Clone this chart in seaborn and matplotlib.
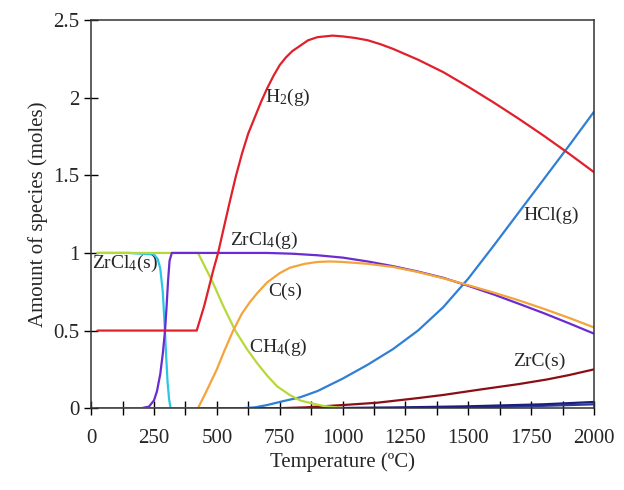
import pandas as pd
import matplotlib
matplotlib.use('Agg')
import matplotlib.pyplot as plt
from matplotlib.ticker import MultipleLocator
import seaborn as sns

# values (temperature in C, amount in moles)
h2_t = [25, 200, 420, 450, 486, 505, 526, 550, 575, 600, 625, 650, 675, 700, 725, 750, 775, 800, 863, 900, 960,
        1000, 1050, 1100, 1150, 1200, 1300, 1400, 1500, 1600, 1700, 1800, 1900, 2000]
h2_y = [0.5, 0.5, 0.5, 0.66, 0.89, 1.0, 1.15, 1.32, 1.49, 1.64, 1.77, 1.87, 1.97, 2.06, 2.14, 2.21, 2.26, 2.30, 2.37, 2.39, 2.40,
        2.395, 2.385, 2.37, 2.345, 2.315, 2.245, 2.165, 2.07, 1.97, 1.865, 1.755, 1.64, 1.52]

zrcl4s_t = [25, 150, 250, 265, 275, 285, 292, 298, 304, 310, 316]
zrcl4s_y = [1.0, 1.0, 0.99, 0.96, 0.90, 0.75, 0.55, 0.35, 0.17, 0.06, 0.0]

zrcl4g_t = [25, 200, 230, 250, 262, 275, 285, 294, 300, 306, 312, 321, 500, 700, 800, 900, 1000,
            1100, 1200, 1300, 1400, 1500, 1600, 1700, 1800, 1900, 2000]
zrcl4g_y = [0.0, 0.0, 0.01, 0.05, 0.11, 0.22, 0.35, 0.5, 0.65, 0.82, 0.95, 1.0, 1.0, 1.0, 0.995, 0.985, 0.97,
            0.945, 0.915, 0.88, 0.84, 0.788, 0.733, 0.673, 0.612, 0.547, 0.48]

ch4_t = [25, 200, 425, 450, 481, 525, 573, 620, 660, 700, 740, 790, 831, 880, 922, 1000]
ch4_y = [1.0, 1.0, 1.0, 0.92, 0.82, 0.66, 0.50, 0.38, 0.29, 0.21, 0.14, 0.085, 0.05, 0.03, 0.015, 0.0]

c_t = [25, 425, 450, 500, 530, 565, 600, 630, 660, 700, 750, 791, 850, 900, 950, 1000, 1100, 1200, 1300,
       1400, 1500, 1600, 1700, 1800, 1900, 2000]
c_y = [0.0, 0.0, 0.08, 0.25, 0.37, 0.5, 0.61, 0.68, 0.74, 0.81, 0.87, 0.905, 0.93, 0.942, 0.945, 0.942, 0.93, 0.91, 0.877,
       0.837, 0.792, 0.745, 0.695, 0.64, 0.582, 0.52]

hcl_t = [25, 600, 650, 700, 750, 831, 900, 1000, 1100, 1200, 1300, 1400, 1500, 1600, 1700, 1800, 1900, 2000]
hcl_y = [0.0, 0.0, 0.005, 0.02, 0.04, 0.07, 0.11, 0.19, 0.28, 0.38, 0.50, 0.65, 0.835, 1.045, 1.26, 1.475, 1.69, 1.91]

zrc_t = [25, 750, 850, 1000, 1137, 1300, 1400, 1547, 1700, 1813, 1900, 2000]
zrc_y = [0.0, 0.0, 0.005, 0.02, 0.035, 0.065, 0.085, 0.12, 0.155, 0.185, 0.213, 0.25]

minor1_t = [25, 900, 1200, 1500, 1800, 2000]
minor1_y = [0.0, 0.0, 0.004, 0.012, 0.025, 0.04]
minor2_t = [25, 1000, 1300, 1600, 1800, 2000]
minor2_y = [0.0, 0.0, 0.003, 0.008, 0.015, 0.025]

species = ['H2', 'ZrCl4(s)', 'ZrCl4(g)', 'CH4', 'C', 'HCl', 'ZrC', 'm1', 'm2']
temps = [h2_t, zrcl4s_t, zrcl4g_t, ch4_t, c_t, hcl_t, zrc_t, minor1_t, minor2_t]
amounts = [h2_y, zrcl4s_y, zrcl4g_y, ch4_y, c_y, hcl_y, zrc_y, minor1_y, minor2_y]
colors = ['#e0202a', '#2cc6e4', '#6a2cd0', '#b8d83a', '#f4a43a', '#2f7fd6', '#8a0f14', '#1b1f7a', '#2a3a9a']

frames = []
for s, t, a in zip(species, temps, amounts):
    frames.append(pd.DataFrame({'T': t, 'n': a, 'species': s}))
df = pd.concat(frames, ignore_index=True)

sns.set_style('ticks')
plt.rcParams['font.family'] = ['Liberation Serif', 'DejaVu Serif']
plt.rcParams['mathtext.fontset'] = 'custom'
plt.rcParams['mathtext.rm'] = 'Liberation Serif'
plt.rcParams['mathtext.it'] = 'Liberation Serif:italic'

fig = plt.figure(figsize=(6.24, 4.9), dpi=100)
ax = fig.add_axes([0.146, 0.167, 0.806, 0.792])

draw_order = ['m2', 'm1', 'ZrC', 'HCl', 'ZrCl4(s)', 'CH4', 'ZrCl4(g)', 'C', 'H2']
pal = dict(zip(species, colors))
for s in draw_order:
    sns.lineplot(data=df[df['species'] == s], x='T', y='n', color=pal[s],
                 linewidth=1.6, estimator=None, sort=False, ax=ax)

ax.set_xlim(0, 2000)
ax.set_ylim(0, 2.5)
ax.xaxis.set_major_locator(MultipleLocator(250))
ax.xaxis.set_minor_locator(MultipleLocator(125))
ax.set_yticks([0, 0.5, 1, 1.5, 2, 2.5])
ax.set_yticklabels(['0', '0.5', '1', '1.5', '2', '2.5'])
ax.tick_params(axis='both', which='both', direction='inout', length=10, width=1, labelsize=15, color='black')
ax.tick_params(axis='x', pad=10)
for sp in ax.spines.values():
    sp.set_visible(True)
    sp.set_color('#333333')
    sp.set_linewidth(1.1)

ax.set_xlabel('Temperature (ºC)', fontsize=15, labelpad=3)
ax.set_ylabel('Amount of species (moles)', fontsize=15, labelpad=4)

fs = 14
ax.text(690, 2.0, 'H$_\\mathrm{2}$(g)', fontsize=fs, va='center', ha='left')
ax.text(553, 1.08, 'ZrCl$_\\mathrm{4}$(g)', fontsize=fs, va='center', ha='left')
ax.text(4, 0.93, 'ZrCl$_\\mathrm{4}$(s)', fontsize=fs, va='center', ha='left')
ax.text(704, 0.75, 'C(s)', fontsize=fs, va='center', ha='left')
ax.text(628, 0.39, 'CH$_\\mathrm{4}$(g)', fontsize=fs, va='center', ha='left')
ax.text(1718, 1.24, 'HCl(g)', fontsize=fs, va='center', ha='left')
ax.text(1678, 0.30, 'ZrC(s)', fontsize=fs, va='center', ha='left')

fig.savefig('out.png', dpi=100)
